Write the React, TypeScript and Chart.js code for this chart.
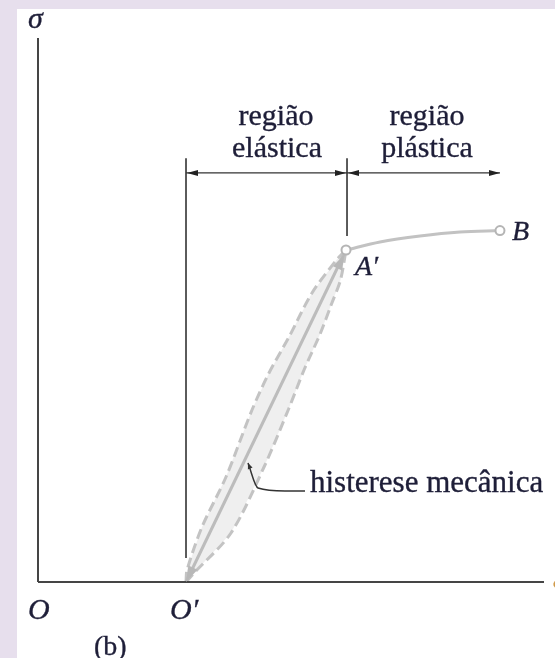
import { useEffect, useRef } from 'react';
import { Chart, registerables } from 'chart.js';
Chart.register(...registerables);

// ---- data (diagram units: strain 0..100, stress 0..100) ----
const AXIS_X = [{ x: 0, y: 0 }, { x: 100, y: 0 }];
const AXIS_Y = [{ x: 0, y: 0 }, { x: 0, y: 100 }];
const O_PRIME = { x: 29.25, y: 0 };
const A_PRIME = { x: 60.87, y: 61.03 };
const B_POINT = { x: 91.3, y: 64.61 };
const LOADING_LINE = [O_PRIME, A_PRIME];
const LOOP_LEFT = [
  { x: 29.25, y: 0 }, { x: 29.45, y: 2.21 }, { x: 32.41, y: 10.11 }, { x: 37.15, y: 19.3 },
  { x: 42.29, y: 31.62 }, { x: 45.65, y: 38.42 }, { x: 49.6, y: 45.04 }, { x: 54.15, y: 53.13 },
  { x: 58.99, y: 59.19 }, { x: 60.87, y: 61.03 },
];
const LOOP_RIGHT = [
  { x: 29.25, y: 0 }, { x: 30.83, y: 1.65 }, { x: 38.14, y: 9.01 }, { x: 44.67, y: 21.14 },
  { x: 49.61, y: 31.99 }, { x: 52.57, y: 38.97 }, { x: 55.83, y: 45.77 }, { x: 57.93, y: 50.92 },
  { x: 59.78, y: 55.51 }, { x: 60.87, y: 61.03 },
];
const PLASTIC_CURVE = [
  { x: 60.87, y: 61.03 }, { x: 67.59, y: 62.5 }, { x: 75.49, y: 63.6 }, { x: 83.4, y: 64.34 }, { x: 91.3, y: 64.61 },
];
const GUIDE_LEFT = [{ x: 29.25, y: 4.4 }, { x: 29.25, y: 77.9 }];
const GUIDE_MID = [{ x: 61.07, y: 63.6 }, { x: 61.07, y: 77.9 }];
const DIM_Y = 75.2;
const DIM_ELASTIC = [{ x: 29.25, y: DIM_Y }, { x: 61.07, y: DIM_Y }];
const DIM_PLASTIC = [{ x: 61.07, y: DIM_Y }, { x: 91.3, y: DIM_Y }];
const LEADER = [{ x: 52.77, y: 16.73 }, { x: 48.81, y: 16.73 }, { x: 43.48, y: 17.28 }, { x: 41.5, y: 21.88 }];

const LABEL_TEXT = ['região', 'elástica', 'região', 'plástica', 'A′', 'B', 'histerese mecânica', 'O', 'O′', '(b)', 'σ', 'ε'];
const LABEL_X = [47.04, 47.23, 76.88, 76.88, 62.65, 93.7, 53.75, -1.98, 26.09, 11.07, -1.98, 101.8];
const LABEL_Y = [84.0, 78.1, 84.0, 78.1, 56.4, 62.9, 16.6, -6.8, -6.8, -13.42, 101.8, -1.1];

const INK = '#1e1e38';
const GRAY = '#c3c3c3';
const SERIF = '"Liberation Serif", "DejaVu Serif", serif';
const LABEL_FONT = [
  `30px ${SERIF}`, `30px ${SERIF}`, `30px ${SERIF}`, `30px ${SERIF}`,
  `italic 28px ${SERIF}`, `italic 28px ${SERIF}`, `31px ${SERIF}`,
  `italic 30px ${SERIF}`, `italic 30px ${SERIF}`, `28px ${SERIF}`, `italic 30px ${SERIF}`, `italic 30px ${SERIF}`,
];
const LABEL_COLOR = [INK, INK, INK, INK, INK, INK, INK, INK, INK, INK, INK, '#d09a4a'];
const LABEL_ALIGN: CanvasTextAlign[] = ['center', 'center', 'center', 'center', 'left', 'left', 'left', 'left', 'left', 'left', 'left', 'left'];

function arrowHead(ctx: CanvasRenderingContext2D, fx: number, fy: number, tx: number, ty: number, len: number, half: number, color: string) {
  const a = Math.atan2(ty - fy, tx - fx);
  ctx.save();
  ctx.fillStyle = color;
  ctx.beginPath();
  ctx.moveTo(tx, ty);
  ctx.lineTo(tx - len * Math.cos(a) + half * Math.sin(a), ty - len * Math.sin(a) - half * Math.cos(a));
  ctx.lineTo(tx - len * Math.cos(a) - half * Math.sin(a), ty - len * Math.sin(a) + half * Math.cos(a));
  ctx.closePath();
  ctx.fill();
  ctx.restore();
}

const decor = {
  id: 'decor',
  beforeDraw(chart: any) {
    const { ctx, width, height } = chart;
    ctx.save();
    ctx.fillStyle = '#e7dfed';
    ctx.fillRect(0, 0, width, height);
    ctx.fillStyle = '#ffffff';
    ctx.fillRect(17, 9, width - 17, height - 9);
    ctx.restore();
  },
  afterDatasetsDraw(chart: any) {
    const { ctx } = chart;
    const xs = chart.scales.x;
    const ys = chart.scales.y;
    const px = (p: { x: number; y: number }) => [xs.getPixelForValue(p.x), ys.getPixelForValue(p.y)];
    // dimension arrows
    const [e0x, e0y] = px(DIM_ELASTIC[0]);
    const [e1x, e1y] = px(DIM_ELASTIC[1]);
    const [p1x, p1y] = px(DIM_PLASTIC[1]);
    arrowHead(ctx, e1x, e1y, e0x + 1, e0y, 11, 3, '#222');
    arrowHead(ctx, e0x, e0y, e1x - 1, e1y, 11, 3, '#222');
    arrowHead(ctx, p1x, p1y, e1x + 1, e1y, 11, 3, '#222');
    arrowHead(ctx, e1x, e1y, p1x, p1y, 11, 3, '#222');
    // loading/unloading arrows
    const [ox, oy] = px(O_PRIME);
    const [ax, ay] = px(A_PRIME);
    arrowHead(ctx, ax, ay, ox, oy, 16, 5, '#b8b8b8');
    arrowHead(ctx, ox, oy, ax - 1.5, ay + 4, 16, 5, '#b8b8b8');
    // leader arrow tip
    const [l2x, l2y] = px(LEADER[2]);
    const [l3x, l3y] = px(LEADER[3]);
    arrowHead(ctx, l2x, l2y, l3x, l3y, 6, 2.5, '#333');
    // labels
    ctx.save();
    ctx.textBaseline = 'alphabetic';
    ctx.lineWidth = 0.35;
    LABEL_TEXT.forEach((t, i) => {
      ctx.font = LABEL_FONT[i];
      ctx.textAlign = LABEL_ALIGN[i];
      ctx.fillStyle = LABEL_COLOR[i];
      ctx.strokeStyle = LABEL_COLOR[i];
      const x = xs.getPixelForValue(LABEL_X[i]);
      const y = ys.getPixelForValue(LABEL_Y[i]);
      ctx.fillText(t, x, y);
      ctx.strokeText(t, x, y);
    });
    ctx.restore();
  },
};

export default function App() {
  const ref = useRef<HTMLCanvasElement>(null);
  useEffect(() => {
    if (!ref.current) return;
    const line = (data: any[], color: string, width: number, extra: any = {}) => ({
      data, showLine: true, borderColor: color, borderWidth: width, pointRadius: 0, fill: false, clip: false, ...extra,
    });
    const chart = new Chart(ref.current, {
      type: 'scatter',
      data: {
        datasets: [
          line([...LOOP_LEFT, ...LOOP_RIGHT.slice().reverse()], 'rgba(0,0,0,0)', 0, { fill: 'shape', backgroundColor: '#efefef', order: 20 }),
          line(LOOP_LEFT, GRAY, 3, { borderDash: [10, 5], tension: 0.3, order: 10 }),
          line(LOOP_RIGHT, GRAY, 3, { borderDash: [10, 5], tension: 0.3, order: 10 }),
          line(LOADING_LINE, '#bcbcbc', 3, { order: 9 }),
          line(PLASTIC_CURVE, '#c2c2c2', 3, { cubicInterpolationMode: 'monotone', order: 8 }),
          line(AXIS_X, '#454545', 2, { order: 5 }),
          line(AXIS_Y, '#454545', 2, { order: 5 }),
          line(GUIDE_LEFT, '#333', 1.6, { order: 5 }),
          line(GUIDE_MID, '#333', 1.6, { order: 5 }),
          line(DIM_ELASTIC, '#333', 1.3, { order: 5 }),
          line(DIM_PLASTIC, '#333', 1.3, { order: 5 }),
          line(LEADER, '#333', 1.5, { cubicInterpolationMode: 'monotone', tension: 0.4, order: 5 }),
          {
            data: [A_PRIME, B_POINT], showLine: false, pointRadius: 4.5, pointBorderWidth: 2,
            pointBackgroundColor: '#ffffff', pointBorderColor: '#b5b5b5', clip: false, order: 1,
          },
        ],
      },
      options: {
        animation: false,
        responsive: false,
        devicePixelRatio: 1,
        layout: { padding: { left: 38, right: 11, top: 38, bottom: 76 } },
        scales: {
          x: { type: 'linear', min: 0, max: 100, display: false },
          y: { type: 'linear', min: 0, max: 100, display: false },
        },
        plugins: { legend: { display: false }, tooltip: { enabled: false } },
      },
      plugins: [decor],
    } as any);
    let alive = true;
    if ((document as any).fonts) {
      Promise.all([
        (document as any).fonts.load('30px "Liberation Serif"'),
        (document as any).fonts.load('italic 30px "Liberation Serif"'),
      ]).then(() => { if (alive) chart.update(); }).catch(() => {});
    }
    return () => { alive = false; chart.destroy(); };
  }, []);
  return (
    <div style={{ position: 'fixed', left: 0, top: 0, width: 555, height: 658 }}>
      <canvas ref={ref} width={555} height={658} style={{ display: 'block', width: 555, height: 658 }} />
    </div>
  );
}
